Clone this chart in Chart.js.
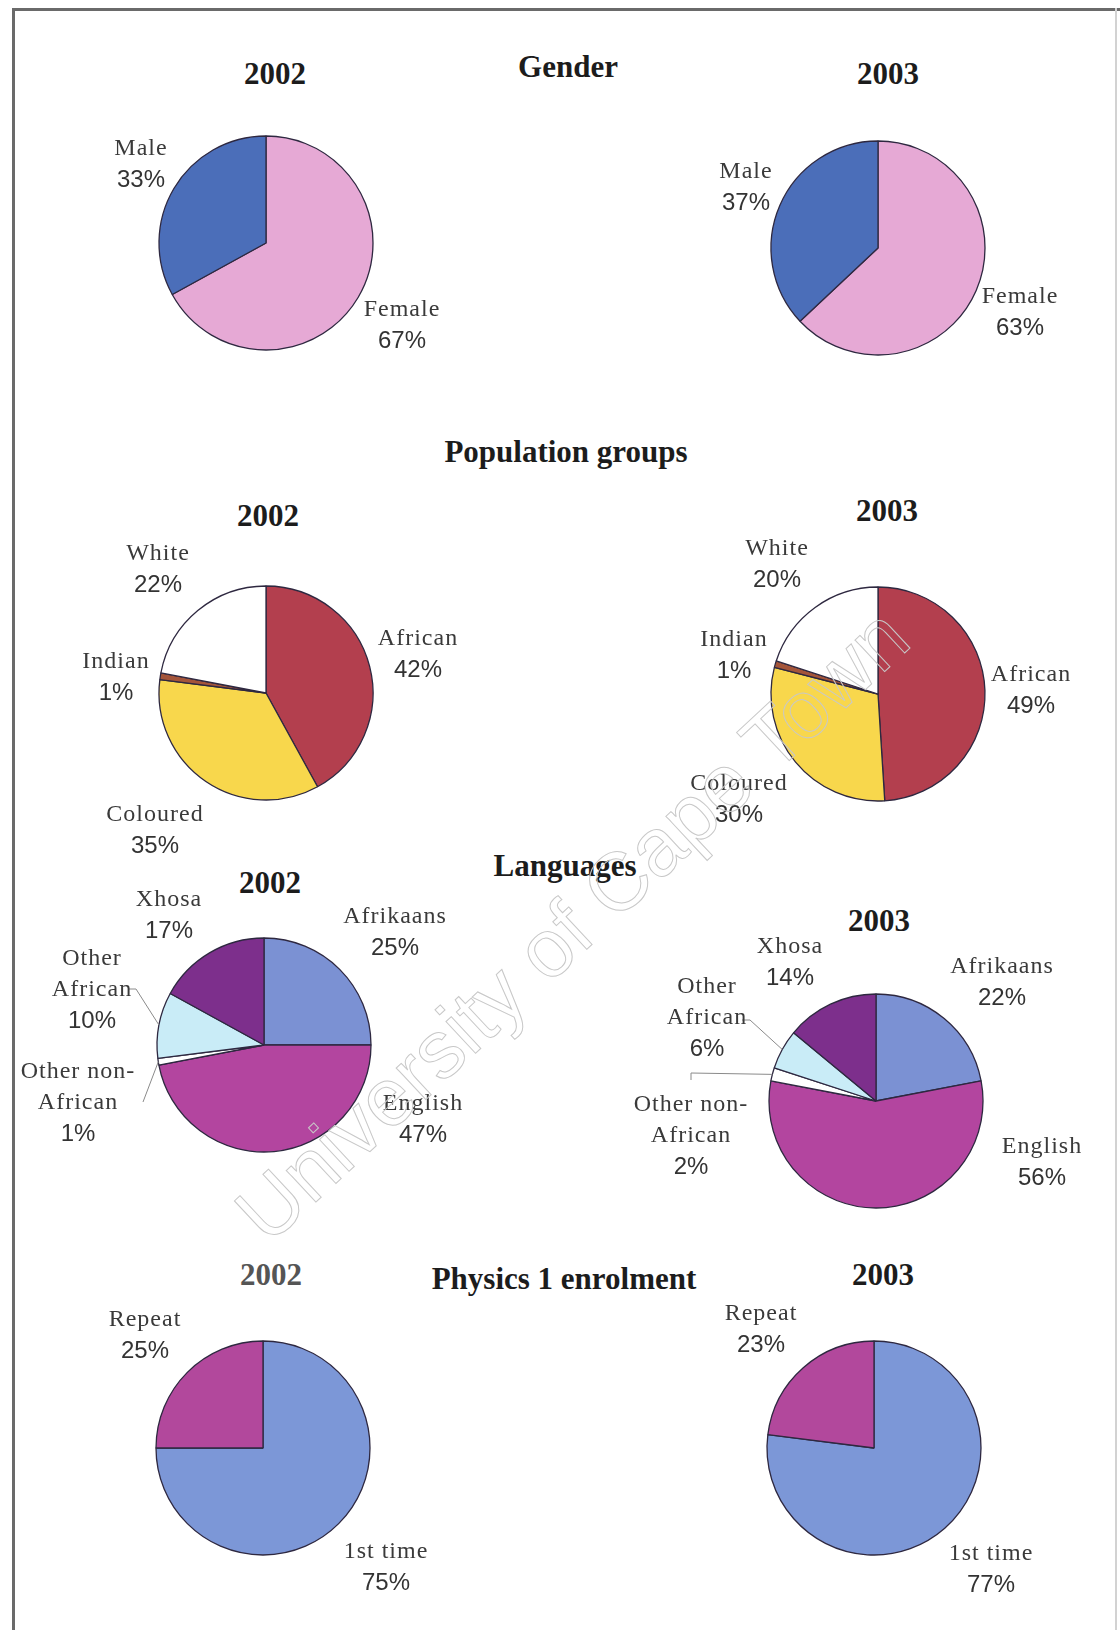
<!DOCTYPE html>
<html>
<head>
<meta charset="utf-8">
<script src="https://cdn.jsdelivr.net/npm/chart.js@4/dist/chart.umd.min.js"></script>
<style>
  body { margin: 0; background: #fff; }
  #page { position: relative; width: 1120px; height: 1630px; overflow: hidden; background: #fff; }
  .frame-top { position: absolute; left: 12px; top: 8px; width: 1108px; height: 3px; background: #6a6a6a; }
  .frame-left { position: absolute; left: 12px; top: 8px; width: 3px; height: 1622px; background: #6a6a6a; }
  .frame-right { position: absolute; left: 1115px; top: 8px; width: 2px; height: 1622px; background: #d2d2d2; }
  .pie { position: absolute; width: 400px; height: 300px; }
  .title { position: absolute; font-family: "Liberation Serif", serif; font-weight: bold; font-size: 31px; color: #1c1c1c; transform: translate(-50%, -50%); white-space: nowrap; }
  .lbl { position: absolute; transform: translateX(-50%); text-align: center; white-space: nowrap; color: #3a3a3a; }
  .lbl span { display: block; height: 31px; line-height: 31px; }
  .lbl .n { font-family: "Liberation Serif", serif; font-size: 24px; letter-spacing: 1px; }
  .lbl .p { font-family: "Liberation Sans", sans-serif; font-size: 24px; color: #333; }
  .wm { position: absolute; left: 572px; top: 925px; transform: translate(-50%, -50%) rotate(-43deg);
        font-family: "Liberation Sans", sans-serif; font-size: 82px; white-space: nowrap;
        color: rgba(255,255,255,0); -webkit-text-stroke: 1px #c8c8c8; pointer-events: none; }
</style>
</head>
<body>
<div id="page">
  <div class="frame-top"></div>
  <div class="frame-left"></div>
  <div class="frame-right"></div>
</div>
<script>
// ---- data ----
var genderLabels = ["Female", "Male"];
var gender2002 = [67, 33];
var gender2003 = [63, 37];

var popLabels = ["African", "Coloured", "Indian", "White"];
var pop2002 = [42, 35, 1, 22];
var pop2003 = [49, 30, 1, 20];

var langLabels = ["Afrikaans", "English", "Other non-African", "Other African", "Xhosa"];
var langNames = ["Afrikaans", "English", "Other non-<br>African", "Other<br>African", "Xhosa"];
var lang2002 = [25, 47, 1, 10, 17];
var lang2003 = [22, 56, 2, 6, 14];

var physLabels = ["1st time", "Repeat"];
var phys2002 = [75, 25];
var phys2003 = [77, 23];

var genderColors = ["#e6a9d5", "#4b6eb9"];
var popColors = ["#b33f4e", "#f8d74c", "#a4553a", "#ffffff"];
var langColors = ["#7b91d3", "#b3459f", "#ffffff", "#c9ecf7", "#7d2f8c"];
var physColors = ["#7c97d7", "#b2489c"];

var W = 400, H = 300;
var page = document.getElementById("page");

function addTitle(text, x, y, color) {
   var d = document.createElement("div");
   d.className = "title";
   d.style.left = x + "px";
   d.style.top = y + "px";
   if (color) d.style.color = color;
   d.textContent = text;
   page.appendChild(d);
}

function addLabel(name, value, x, y) {
   var d = document.createElement("div");
   d.className = "lbl";
   d.style.left = x + "px";
   d.style.top = (y - 15) + "px";
   var lines = name.split("<br>");
   var html = "";
   lines.forEach(function (l) {
      html += '<span class="n">' + l + "</span>";
   });
   d.innerHTML = html + '<span class="p">' + value + "%</span>";
   page.appendChild(d);
}

// leader lines from a label to the middle of its slice edge
var leaderPlugin = {
   id: "leaders",
   afterDatasetsDraw: function (chart) {
      var cfg = chart.config.options.plugins.leaders;
      if (!cfg || !cfg.lines.length) return;
      var ctx = chart.ctx;
      var meta = chart.getDatasetMeta(0);
      cfg.lines.forEach(function (ln) {
         var arc = meta.data[ln.index];
         var mid = (arc.startAngle + arc.endAngle) / 2;
         var ex = arc.x + Math.cos(mid) * arc.outerRadius;
         var ey = arc.y + Math.sin(mid) * arc.outerRadius;
         ctx.save();
         ctx.strokeStyle = "#8a8a8a";
         ctx.lineWidth = 1;
         ctx.beginPath();
         ln.points.forEach(function (p, k) {
            var px = p[0] - cfg.left;
            var py = p[1] - cfg.top;
            if (k == 0) ctx.moveTo(px, py); else ctx.lineTo(px, py);
         });
         ctx.lineTo(ex, ey);
         ctx.stroke();
         ctx.restore();
      });
   },
};

function makePie(cx, cy, labels, values, colors, leaders) {
   var wrap = document.createElement("div");
   wrap.className = "pie";
   wrap.style.left = (cx - W / 2) + "px";
   wrap.style.top = (cy - H / 2) + "px";
   var cv = document.createElement("canvas");
   cv.width = W;
   cv.height = H;
   wrap.appendChild(cv);
   page.appendChild(wrap);

   new Chart(cv.getContext("2d"), {
      type: "pie",
      data: {
         labels: labels,
         datasets: [
            {
               data: values,
               backgroundColor: colors,
               borderColor: "#2e2840",
               borderWidth: 1.3,
               radius: 107,
            },
         ],
      },
      options: {
         responsive: false,
         animation: false,
         layout: { padding: 0 },
         plugins: {
            legend: { display: false },
            tooltip: { enabled: false },
            leaders: { left: cx - W / 2, top: cy - H / 2, lines: leaders || [] },
         },
      },
      plugins: [leaderPlugin],
   });
}

// ---- Gender ----
addTitle("Gender", 568, 67);
addTitle("2002", 275, 74);
addTitle("2003", 888, 74);
makePie(266, 243, genderLabels, gender2002, genderColors);
makePie(878, 248, genderLabels, gender2003, genderColors);
addLabel("Female", gender2002[0], 402, 308);
addLabel("Male", gender2002[1], 141, 147);
addLabel("Female", gender2003[0], 1020, 295);
addLabel("Male", gender2003[1], 746, 170);

// ---- Population groups ----
addTitle("Population groups", 566, 452);
addTitle("2002", 268, 516);
addTitle("2003", 887, 511);
makePie(266, 693, popLabels, pop2002, popColors);
makePie(878, 694, popLabels, pop2003, popColors);
var popPos02 = [[418, 637], [155, 813], [116, 660], [158, 552]];
var popPos03 = [[1031, 673], [739, 782], [734, 638], [777, 547]];
popLabels.forEach(function (n, i) {
   addLabel(n, pop2002[i], popPos02[i][0], popPos02[i][1]);
   addLabel(n, pop2003[i], popPos03[i][0], popPos03[i][1]);
});

// ---- Languages ----
addTitle("Languages", 565, 866);
addTitle("2002", 270, 883);
addTitle("2003", 879, 921);
makePie(264, 1045, langLabels, lang2002, langColors, [
   { index: 3, points: [[128, 989], [136, 989]] },
   { index: 2, points: [[143, 1102]] },
]);
makePie(876, 1101, langLabels, lang2003, langColors, [
   { index: 3, points: [[742, 1020], [750, 1020]] },
   { index: 2, points: [[691, 1080], [691, 1073]] },
]);
var langPos02 = [[395, 915], [423, 1102], [78, 1070], [92, 957], [169, 898]];
var langPos03 = [[1002, 965], [1042, 1145], [691, 1103], [707, 985], [790, 945]];
langNames.forEach(function (n, i) {
   addLabel(n, lang2002[i], langPos02[i][0], langPos02[i][1]);
   addLabel(n, lang2003[i], langPos03[i][0], langPos03[i][1]);
});

// ---- Physics 1 enrolment ----
addTitle("Physics 1 enrolment", 564, 1279);
addTitle("2002", 271, 1275, "#555");
addTitle("2003", 883, 1275);
makePie(263, 1448, physLabels, phys2002, physColors);
makePie(874, 1448, physLabels, phys2003, physColors);
addLabel("1st time", phys2002[0], 386, 1550);
addLabel("Repeat", phys2002[1], 145, 1318);
addLabel("1st time", phys2003[0], 991, 1552);
addLabel("Repeat", phys2003[1], 761, 1312);

// watermark of the scanned source
var wm = document.createElement("div");
wm.className = "wm";
wm.textContent = "University of Cape Town";
page.appendChild(wm);
</script>
</body>
</html>
